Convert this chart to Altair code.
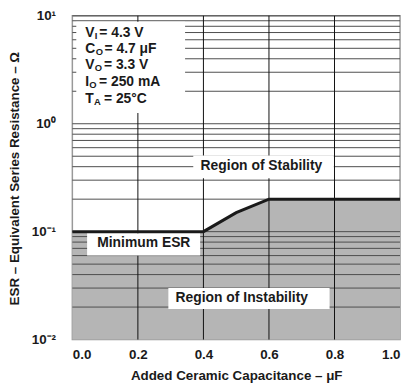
import altair as alt
import pandas as pd

# ---- data ----
cap = [0.0, 0.4, 0.5, 0.6, 1.0]
esr = [0.1, 0.1, 0.15, 0.2, 0.2]

x_ticks = [0.0, 0.2, 0.4, 0.6, 0.8, 1.0]
y_ticks = [0.01, 0.1, 1.0, 10.0]
x_grid = [0.2, 0.4, 0.6, 0.8]
y_grid = [0.02, 0.03, 0.04, 0.05, 0.06, 0.07, 0.08, 0.09, 0.1,
          0.2, 0.3, 0.4, 0.5, 0.6, 0.7, 0.8, 0.9, 1.0,
          2, 3, 4, 5, 6, 7, 8, 9, 10]

param_main = ["V", "C", "V", "I", "T"]
param_sub = ["I", "O", "O", "O", "A"]
param_rest = ["= 4.3 V", "= 4.7 μF", "= 3.3 V", "= 250 mA", "= 25°C"]

region_labels = ["Region of Stability", "Minimum ESR", "Region of Instability"]

# ---- annotation placement (data units) ----
param_x = 0.039
param_y = [6.42, 4.51, 3.21, 2.26, 1.57]
sub_dx = [9.6, 10.8, 9.8, 4.2, 9.0]
rest_dx = [14.3, 19.6, 19.0, 14.0, 19.0]

label_x = [0.577, 0.218, 0.517]
label_y = [0.403, 0.0776, 0.0243]

box_x = [0.012, 0.369, 0.045, 0.293]
box_x2 = [0.344, 0.798, 0.39, 0.785]
box_y = [8.81, 0.509, 0.096, 0.030]
box_y2 = [1.26, 0.313, 0.060, 0.0192]

FONT = "Liberation Sans"
TXT = "#1a1a1a"
FS = 14

xs = alt.Scale(domain=[0, 1], nice=False, zero=False)
ys = alt.Scale(type="log", domain=[0.01, 10], nice=False)

label_expr = ("datum.value >= 9 ? '10¹' : datum.value >= 0.9 ? '10⁰' : "
              "datum.value >= 0.09 ? '10⁻¹' : '10⁻²'")

AX = alt.Axis(
    values=x_ticks, format=".1f", grid=False, ticks=False, domain=False,
    labelFont=FONT, labelFontSize=13.5, labelFontWeight="bold", labelColor=TXT,
    labelPadding=8, titleFont=FONT, titleFontSize=13.5, titleFontWeight="bold",
    titleColor=TXT, titlePadding=8)
AY = alt.Axis(
    values=y_ticks, labelExpr=label_expr, grid=False, ticks=False, domain=False,
    labelFont=FONT, labelFontSize=13.5, labelFontWeight="bold", labelColor=TXT,
    labelPadding=17, titleFont=FONT, titleFontSize=13.5, titleFontWeight="bold",
    titleColor=TXT, titleX=-58, titleY=164, titleAngle=270, titleAlign="center",
    titleBaseline="middle")
XT = "Added Ceramic Capacitance – μF"
YT = "ESR – Equivalent Series Resistance – Ω"


def X(f):
    return alt.X(f, scale=xs, axis=AX, title=XT)


def Y(f):
    return alt.Y(f, scale=ys, axis=AY, title=YT)


curve = pd.DataFrame({"cap": cap, "esr": esr})

area = alt.Chart(curve).mark_area(color="#b5b5b5").encode(
    x=X("cap:Q"), y=Y("esr:Q"), y2=alt.datum(0.01))

hgrid = alt.Chart(pd.DataFrame({"v": y_grid})).mark_rule(
    color="#4d4d4d", strokeWidth=1).encode(y=Y("v:Q"))
vgrid = alt.Chart(pd.DataFrame({"v": x_grid})).mark_rule(
    color="#111111", strokeWidth=1).encode(x=X("v:Q"))

line = alt.Chart(curve).mark_line(color="#1a1a1a", strokeWidth=3).encode(
    x=X("cap:Q"), y=Y("esr:Q"))

boxes = alt.Chart(pd.DataFrame({"x": box_x, "x2": box_x2, "y": box_y, "y2": box_y2})).mark_rect(
    color="white").encode(x=X("x:Q"), x2="x2:Q", y=Y("y:Q"), y2="y2:Q")

labels = alt.Chart(pd.DataFrame({"x": label_x, "y": label_y, "t": region_labels})).mark_text(
    font=FONT, fontSize=FS, fontWeight="bold", color=TXT, align="center", baseline="middle"
).encode(x=X("x:Q"), y=Y("y:Q"), text="t:N")

layers = [area, hgrid, vgrid, line, boxes, labels]

pdf = pd.DataFrame({"x": [param_x] * 5, "y": param_y, "main": param_main,
                    "sub": param_sub, "rest": param_rest})
for i in range(5):
    row = pdf.iloc[[i]]
    layers.append(alt.Chart(row).mark_text(
        font=FONT, fontSize=FS, fontWeight="bold", color=TXT, align="left",
        baseline="alphabetic").encode(x=X("x:Q"), y=Y("y:Q"), text="main:N"))
    layers.append(alt.Chart(row).mark_text(
        font=FONT, fontSize=9.5, fontWeight="bold", color=TXT, align="left",
        baseline="alphabetic", dx=sub_dx[i], dy=2).encode(x=X("x:Q"), y=Y("y:Q"), text="sub:N"))
    layers.append(alt.Chart(row).mark_text(
        font=FONT, fontSize=FS, fontWeight="bold", color=TXT, align="left",
        baseline="alphabetic", dx=rest_dx[i]).encode(x=X("x:Q"), y=Y("y:Q"), text="rest:N"))

chart = alt.layer(*layers).properties(
    width=331, height=327,
    autosize=alt.AutoSizeParams(type="none"),
    padding={"left": 65, "top": 6, "right": 4, "bottom": 44},
    background="white",
).configure_view(stroke="#999999", strokeWidth=1.5)

chart.save("out.html", embed_options={"renderer": "svg", "actions": False})
